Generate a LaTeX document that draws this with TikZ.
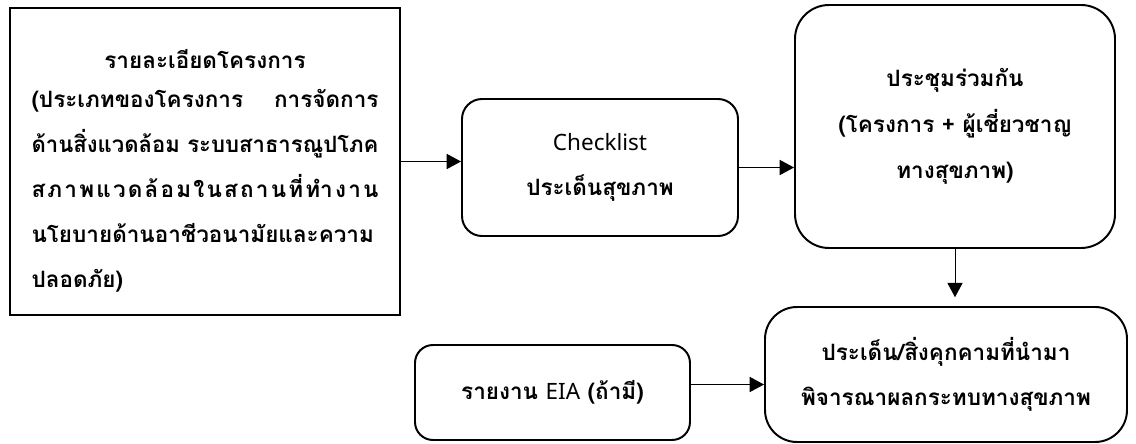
\documentclass[tikz,border=0pt]{standalone}
\usepackage{fontspec}
\setmainfont[Script=Thai]{Loma}
\newfontfamily\latinfont{Noto Sans}
\usepackage{graphicx}
\usepackage{tikz}
\usetikzlibrary{arrows.meta}

\tikzset{
  thaitext/.style={font=\fontsize{16}{32.5}\selectfont\bfseries},
  plainbox/.style={draw, line width=2.1pt},
  roundbox/.style={draw, line width=1.4pt, thaitext, align=center},
  flow/.style={-{Triangle[length=0.36cm,width=0.38cm]}, line width=0.7pt}
}

\begin{document}
\begin{tikzpicture}
  \useasboundingbox (0,0) rectangle (28.4,11.075);

  % project details
  \node[plainbox, minimum width=9.75cm, minimum height=7.675cm] (detail) at (5.125,7.0375) {};
  \node[font=\fontsize{16}{32}\selectfont\bfseries, inner sep=0pt,
        text width=8.675cm, align=left] (detailtext) at ([yshift=-0.225cm]detail.center) {%
    \makebox[\hsize]{รายละเอียดโครงการ}\\[-0.15cm]
    \makebox[\hsize][s]{(ประเภทของโครงการ\hfill การจัดการ}\\
    \resizebox{\hsize}{\height}{ด้านสิ่งแวดล้อม ระบบสาธารณูปโภค}\\
    \makebox[\hsize][s]{ส\hfil ภ\hfil า\hfil พ\hfil แ\hfil ว\hfil ด\hfil ล้\hfil อ\hfil ม\hfil ใ\hfil น\hfil ส\hfil ถ\hfil า\hfil น\hfil ที่\hfil ทำ\hfil ง\hfil า\hfil น}\\
    นโยบายด้านอาชีวอนามัยและความ\\
    ปลอดภัย)};

  \node[roundbox, rounded corners=0.5cm, minimum width=6.9cm, minimum height=3.425cm]
    (check) at (15.0,6.8875) {{\latinfont\mdseries Checklist}\\ประเด็นสุขภาพ};

  \node[roundbox, rounded corners=0.85cm, minimum width=8.0cm, minimum height=6.075cm]
    (meet) at (23.875,7.9125) {ประชุมร่วมกัน\\(โครงการ + ผู้เชี่ยวชาญ\\ทางสุขภาพ)};

  \node[roundbox, rounded corners=0.8cm, minimum width=9.05cm, minimum height=3.375cm]
    (risk) at (23.65,1.7125) {ประเด็น/สิ่งคุกคามที่นำมา\\พิจารณาผลกระทบทางสุขภาพ};

  \node[roundbox, rounded corners=0.45cm, minimum width=6.875cm, minimum height=2.375cm]
    (eia) at (13.8125,1.2625) {รายงาน {\latinfont\mdseries EIA} (ถ้ามี)};

  % arrows
  \draw[flow] (detail.east) -- (detail.east -| check.west);
  \draw[flow] (check.east) -- (check.east -| meet.west);
  \draw[flow, shorten >=0.22cm] (meet.south) -- (meet.south |- risk.north);
  \draw[flow] ([yshift=0.2cm]eia.east) -- ([yshift=0.2cm]eia.east -| risk.west);
\end{tikzpicture}
\end{document}
